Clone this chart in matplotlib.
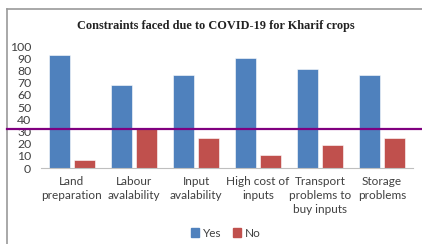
import matplotlib.pyplot as plt
import numpy as np
from matplotlib.lines import Line2D
from matplotlib.patches import Patch

categories = ["Land\npreparation", "Labour\navalability", "Input\navalability",
              "High cost of\ninputs", "Transport\nproblems to\nbuy inputs", "Storage\nproblems"]
yes_vals = [93, 68, 76, 90, 81, 76]
no_vals = [7, 33, 25, 11, 19, 25]
ref_level = 32

BLUE = "#4F81BD"
RED = "#C0504D"
TXT = "#404040"

plt.rcParams["font.family"] = ["Lato", "DejaVu Sans"]

fig = plt.figure(figsize=(4.22, 2.44), dpi=100)
ax = fig.add_axes([0.097, 0.311, 0.882, 0.5])

x = np.arange(len(categories))
w = 0.34
ax.bar(x - 0.2, yes_vals, w, color=BLUE, edgecolor="white", linewidth=0.4)
ax.bar(x + 0.2, no_vals, w, color=RED, edgecolor="white", linewidth=0.4)

ax.set_xlim(-0.5, len(categories) - 0.5)
ax.set_ylim(0, 100)
ax.set_yticks(range(0, 101, 10))
ax.set_xticks(x)
ax.set_xticklabels(categories, fontsize=8.5, color=TXT, linespacing=1.3)
ax.tick_params(axis="y", labelsize=8.8, labelcolor=TXT, length=0, pad=7)
ax.tick_params(axis="x", length=0, pad=6)
for s in ["top", "right", "left"]:
    ax.spines[s].set_visible(False)
ax.spines["bottom"].set_color("#BFBFBF")
ax.set_facecolor("none")

fig.text(0.512, 0.895, "Constraints faced due to COVID-19 for Kharif crops",
         ha="center", va="center", fontsize=8.8, fontweight="bold",
         family="Liberation Serif", color="#222222")

handles = [Patch(color=BLUE, label="Yes"), Patch(color=RED, label="No")]
fig.legend(handles=handles, loc="center", bbox_to_anchor=(0.535, 0.045), ncol=2,
           frameon=False, fontsize=8.5, handlelength=0.7, handleheight=0.7,
           handletextpad=0.3, columnspacing=1.0, labelcolor=TXT)

# chart border (left and top visible)
fig.add_artist(Line2D([7 / 422, 7 / 422], [0, 1 - 9 / 244], transform=fig.transFigure,
                      color="#9A9A9A", linewidth=1.2))
fig.add_artist(Line2D([7 / 422, 1], [1 - 9 / 244, 1 - 9 / 244], transform=fig.transFigure,
                      color="#9A9A9A", linewidth=1.2))

# purple reference line across the whole chart
y_fig = fig.transFigure.inverted().transform(ax.transData.transform((0, ref_level)))[1]
fig.add_artist(Line2D([7 / 422, 1], [y_fig, y_fig], transform=fig.transFigure,
                      color="#800080", linewidth=1.6))

fig.savefig("out.png", dpi=100)
